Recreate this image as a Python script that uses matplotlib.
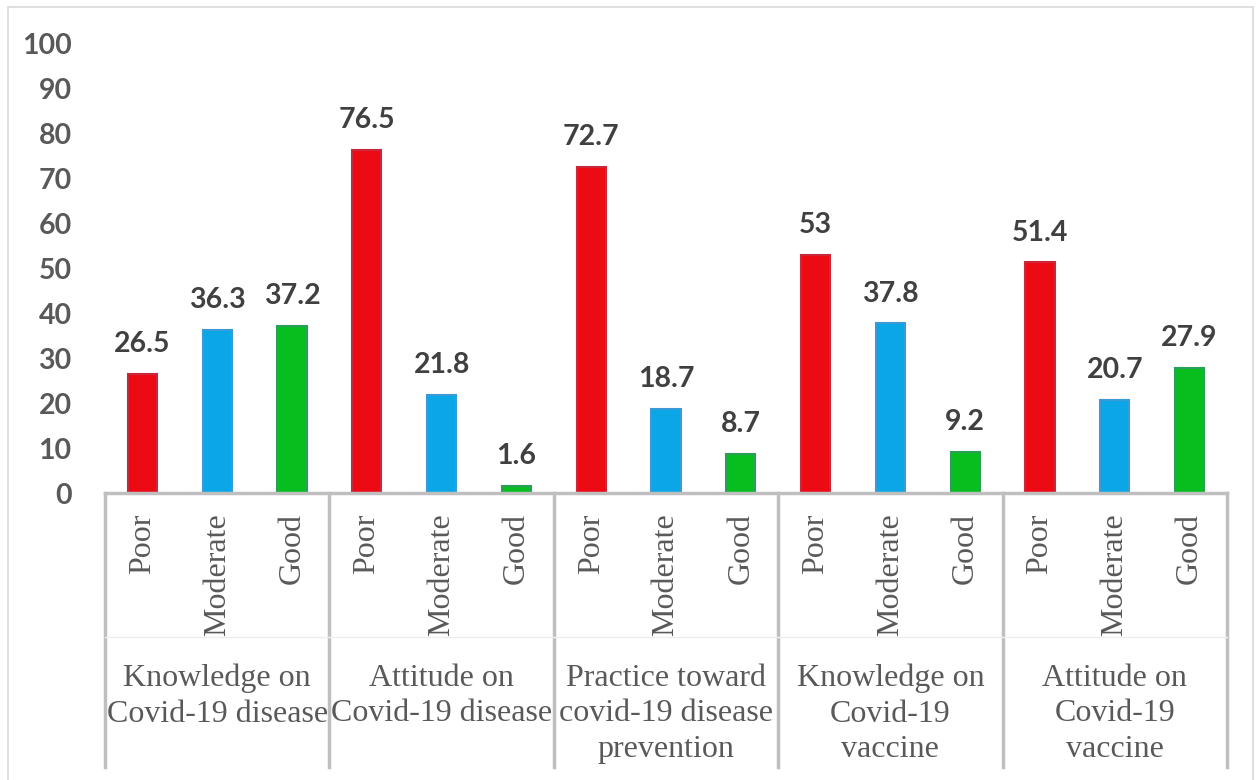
import matplotlib
matplotlib.use("Agg")
import matplotlib.pyplot as plt
from matplotlib.lines import Line2D
from matplotlib.patches import Rectangle
import numpy as np

# data
groups = ["Knowledge on\nCovid-19 disease", "Attitude on\nCovid-19 disease",
          "Practice toward\ncovid-19 disease\nprevention",
          "Knowledge on\nCovid-19\nvaccine", "Attitude on\nCovid-19\nvaccine"]
levels = ["Poor", "Moderate", "Good"]
poor = [26.5, 76.5, 72.7, 53, 51.4]
moderate = [36.3, 21.8, 18.7, 37.8, 20.7]
good = [37.2, 1.6, 8.7, 9.2, 27.9]

fill = {"Poor": "#EC0A14", "Moderate": "#0AA6E6", "Good": "#08BE1E"}
edge = {"Poor": "#C8283C", "Moderate": "#3A9AD8", "Good": "#2A9E5A"}

W, H = 1257, 780
fig = plt.figure(figsize=(W / 100, H / 100), dpi=100)
ax = fig.add_axes([105 / W, (H - 493) / H, (1227 - 105) / W, (493 - 44) / H])

# outer light border of the chart area
fig.patches.append(Rectangle((8 / W, -0.01), (1253 - 8) / W, (H - 7) / H + 0.01,
                             transform=fig.transFigure, fill=False,
                             edgecolor="#D9D9D9", lw=1.2))

series = [poor, moderate, good]
n = len(groups)
for gi in range(n):
    for li, lev in enumerate(levels):
        xpos = gi * 3 + li
        val = series[li][gi]
        ax.bar(xpos, val, width=0.39, color=fill[lev], edgecolor=edge[lev], linewidth=1.5)
        ax.annotate('{:g}'.format(val), xy=(xpos, val), xytext=(0, 12),
                    textcoords="offset points", ha="center", va="bottom",
                    fontsize=20.5, fontweight="bold", color="#404040", family="Lato")

ax.set_xlim(-0.5, 3 * n - 0.5)
ax.set_ylim(0, 100)
ax.set_yticks(np.arange(0, 101, 10))
ax.set_xticks([])
ax.tick_params(axis="y", length=0, pad=24, labelsize=20.5, labelcolor="#595959")
for lab in ax.get_yticklabels():
    lab.set_fontweight("bold")
    lab.set_family("Lato")
for s in ["top", "right", "left"]:
    ax.spines[s].set_visible(False)
ax.spines["bottom"].set_color("#BFBFBF")
ax.spines["bottom"].set_linewidth(2.5)

tr = ax.get_xaxis_transform()
# level labels (rotated)
for gi in range(n):
    for li, lev in enumerate(levels):
        ax.text(gi * 3 + li, -0.045, lev, transform=tr, rotation=90,
                ha="center", va="top", fontsize=23, color="#595959",
                family="Liberation Serif")
    ax.text(gi * 3 + 1, -0.380, groups[gi], transform=tr, ha="center", va="top",
            fontsize=23, color="#595959", family="Liberation Serif", linespacing=1.3)

# group dividers and faint row separator
for b in np.arange(-0.5, 3 * n, 3):
    ax.add_line(Line2D([b, b], [0, -0.61], transform=tr, color="#BFBFBF",
                       lw=2.5, clip_on=False))
ax.add_line(Line2D([-0.5, 3 * n - 0.5], [-0.321, -0.321], transform=tr,
                   color="#EFEFEF", lw=1, clip_on=False))

plt.savefig("out.png", dpi=100)
